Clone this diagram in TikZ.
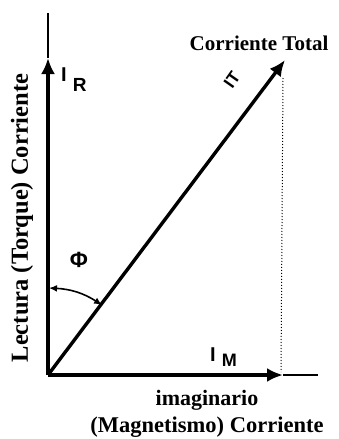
\documentclass[tikz,border=0pt]{standalone}
\usepackage{fontspec}
\setmainfont{Liberation Serif}
\setsansfont{Liberation Sans}
\usetikzlibrary{arrows.meta,positioning}

\begin{document}
\begin{tikzpicture}[
    x=1pt, y=-1pt,
    axis/.style={line width=3.4pt, -{Latex[length=16pt,width=14pt]}},
    tail/.style={line width=1.6pt},
    guide/.style={dotted, line width=1pt},
    arrow/.style={{Latex[length=8pt,width=7pt]}-{Latex[length=8pt,width=7pt]}, line width=1.6pt},
    lbl/.style={font=\bfseries\fontsize{21}{24}\selectfont, inner sep=0pt},
    sym/.style={font=\sffamily\bfseries\fontsize{20}{20}\selectfont, inner sep=0pt}
]
    \useasboundingbox (0,0) rectangle (338,439);
    \coordinate (O) at (48,375);
    \coordinate (Rtip) at (48,58);
    \coordinate (Rend) at (48,13);
    \coordinate (Mtip) at (283,375);
    \coordinate (Mend) at (318,375);
    \coordinate (T) at (285,60);
    \coordinate (Ttop) at (283,78);
    \coordinate (Tfoot) at (281,372);
    \coordinate (phiA) at (49,288);
    \coordinate (phiB) at (102,305);

    \draw[tail] (Rtip) -- (Rend);
    \draw[tail] (Mtip) -- (Mend);
    \draw[axis] (O) -- (Rtip);
    \draw[axis] (O) -- (Mtip);
    \draw[axis] (O) -- (T);
    \draw[guide] (Ttop) -- (Tfoot);
    \draw[arrow] (phiA) to[bend left=15] (phiB);

    \node[lbl] (total) at (259,43) {Corriente Total};
    \node[lbl, rotate=90, font=\bfseries\fontsize{24.5}{28}\selectfont] (torque) at (22,218) {Lectura (Torque) Corriente};
    \node[lbl, font=\bfseries\fontsize{22}{24}\selectfont] (imag) at (207,400) {imaginario};
    \node[lbl, font=\bfseries\fontsize{22.5}{26}\selectfont, below=6pt of imag] (magn) {(Magnetismo) Corriente};

    \node[sym, anchor=north west] (IR) at (61,68) {I\hspace{6pt}\raisebox{-10pt}{\fontsize{19}{19}\selectfont R}};
    \node[sym, anchor=north west] (IM) at (210,348) {I\hspace{6pt}\raisebox{-5pt}{\fontsize{18}{18}\selectfont M}};
    \node[sym, rotate=55, font=\sffamily\bfseries\fontsize{17}{17}\selectfont] (IT) at (232,80) {IT};
    \node[sym, font=\sffamily\bfseries\fontsize{22}{22}\selectfont] (phi) at (79,260) {Φ};
\end{tikzpicture}
\end{document}
